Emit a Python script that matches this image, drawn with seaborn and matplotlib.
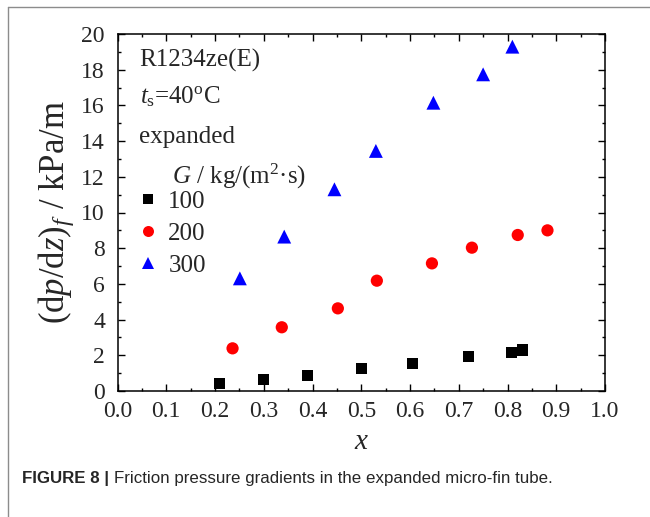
import matplotlib
matplotlib.use("Agg")
import matplotlib.pyplot as plt
import seaborn as sns
import pandas as pd
from matplotlib.lines import Line2D
from matplotlib.ticker import MultipleLocator, FormatStrFormatter

# ---- data ----
x_100 = [0.210, 0.300, 0.390, 0.501, 0.605, 0.720, 0.809, 0.830]
y_100 = [0.43, 0.65, 0.86, 1.25, 1.55, 1.92, 2.15, 2.30]
x_200 = [0.236, 0.337, 0.452, 0.532, 0.645, 0.727, 0.821, 0.882]
y_200 = [2.39, 3.57, 4.63, 6.18, 7.15, 8.03, 8.74, 9.00]
x_300 = [0.251, 0.342, 0.445, 0.530, 0.648, 0.750, 0.810]
y_300 = [6.31, 8.65, 11.30, 13.45, 16.15, 17.74, 19.29]

series_labels = ["100", "200", "300"]
series_colors = ["#000000", "#ff0000", "#0000ff"]
series_markers = ["s", "o", "^"]
series_sizes = [8.0, 8.8, 10.0]   # marker size in points

x_ticks = [0.0, 0.1, 0.2, 0.3, 0.4, 0.5, 0.6, 0.7, 0.8, 0.9, 1.0]
y_ticks = [0, 2, 4, 6, 8, 10, 12, 14, 16, 18, 20]

caption_bold = "FIGURE 8 | "
caption_text = "Friction pressure gradients in the expanded micro-fin tube."

# ---- style ----
sns.set_style("ticks")
plt.rcParams["font.family"] = ["Liberation Serif", "DejaVu Serif"]
plt.rcParams["mathtext.fontset"] = "custom"
plt.rcParams["mathtext.rm"] = "Liberation Serif"
plt.rcParams["mathtext.it"] = "Liberation Serif:italic"
plt.rcParams["mathtext.bf"] = "Liberation Serif:bold"

fig = plt.figure(figsize=(6.5, 5.17), dpi=100)
ax = fig.add_axes([117.5 / 650, (517 - 391) / 517, 487.5 / 650, 357 / 517])

xs = [x_100, x_200, x_300]
ys = [y_100, y_200, y_300]
handles = []
for xv, yv, lab, col, mk, ms in zip(xs, ys, series_labels, series_colors,
                                     series_markers, series_sizes):
    df = pd.DataFrame({"x": xv, "y": yv})
    sns.scatterplot(data=df, x="x", y="y", ax=ax, color=col, marker=mk,
                    s=ms ** 2, linewidth=0, edgecolor="none", zorder=3)
    handles.append(Line2D([], [], linestyle="none", marker=mk, color=col,
                          markersize=ms * 0.9, markeredgewidth=0, label=lab))

ax.set_xlim(0, 1.0)
ax.set_ylim(0, 20)
ax.set_xticks(x_ticks)
ax.set_yticks(y_ticks)
ax.xaxis.set_major_formatter(FormatStrFormatter("%.1f"))
ax.xaxis.set_minor_locator(MultipleLocator(0.05))
ax.yaxis.set_minor_locator(MultipleLocator(1))
ax.tick_params(which="both", direction="in", top=True, right=True,
               width=1.0, color="black")
ax.tick_params(which="major", length=5, labelsize=17, pad=7)
ax.tick_params(axis="y", which="major", pad=9)
ax.tick_params(which="minor", length=2.5)
for sp in ax.spines.values():
    sp.set_linewidth(1.1)
    sp.set_color("black")
ax.grid(False)

ax.set_xlabel("$x$", fontsize=21, labelpad=5)
ax.set_ylabel("(d$p$/d$z$)$_f$ / kPa/m", fontsize=25, labelpad=4)

# annotations
def ax_x(px):
    return (px - 117.5) / 487.5

def ax_y(py):
    return (391 - py) / 357

ax.text(ax_x(139), ax_y(66.7), "R1234ze(E)", fontsize=18, va="baseline",
        ha="left", transform=ax.transAxes)
ax.text(ax_x(140), ax_y(103.3), "$t_{\\rm s}$=40$^{\\rm o}$C", fontsize=18,
        va="baseline", ha="left", transform=ax.transAxes)
ax.text(ax_x(139), ax_y(143.3), "expanded", fontsize=18, va="baseline",
        ha="left", transform=ax.transAxes)
ax.text(ax_x(171.7), ax_y(183.3), "$G$ / kg/(m$^2$·s)", fontsize=18,
        va="baseline", ha="left", transform=ax.transAxes)

ax.legend(handles=handles, loc="upper left",
          bbox_to_anchor=(ax_x(135.8), ax_y(190)), frameon=False,
          fontsize=18, handlelength=1.0, handletextpad=0.3,
          labelspacing=0.38, borderpad=0, borderaxespad=0)

# figure frame (left and top grey lines)
fig.add_artist(Line2D([8 / 650, 8 / 650], [0, 1 - 7 / 517],
                      color="#8c8c8c", linewidth=1.0))
fig.add_artist(Line2D([8 / 650, 1], [1 - 7 / 517, 1 - 7 / 517],
                      color="#8c8c8c", linewidth=1.0))

# caption
fig.canvas.draw()
renderer = fig.canvas.get_renderer()
t1 = fig.text(22 / 650, 1 - 483.5 / 517, caption_bold, fontsize=12.2,
              fontweight="bold", family=["Liberation Sans", "DejaVu Sans"],
              va="baseline", ha="left")
bb = t1.get_window_extent(renderer=renderer)
fig.text(bb.x1 / fig.bbox.width, 1 - 483.5 / 517, caption_text,
         fontsize=12.2, family=["Liberation Sans", "DejaVu Sans"],
         va="baseline", ha="left")

fig.savefig("out.png", dpi=100)
